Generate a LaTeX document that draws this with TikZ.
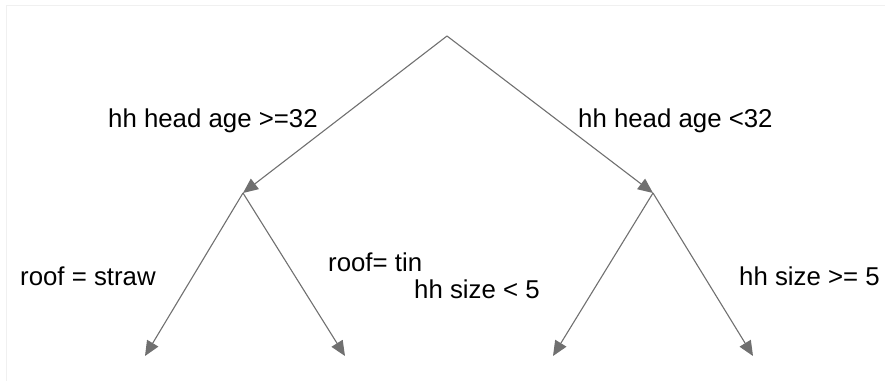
\documentclass[tikz,border=0pt]{standalone}
\usepackage{fontspec}
\setmainfont{Liberation Sans}
\usetikzlibrary{arrows.meta}
\definecolor{edgegray}{HTML}{707070}
\definecolor{framegray}{HTML}{F0F0F0}
\begin{document}
\begin{tikzpicture}[x=1pt,y=1pt,
  edge/.style={draw=edgegray, line width=1.1pt, -{Triangle[length=15pt,width=13pt]}},
  lbl/.style={font=\fontsize{25.8}{30}\selectfont, inner sep=0pt, anchor=base west, text=black}]
\useasboundingbox (0,0) rectangle (885,381);
\draw[framegray, line width=1pt] (6,0) -- (6,375) -- (885,375);
\coordinate (root) at (447,345);
\coordinate (L) at (243,188);
\coordinate (R) at (653,188);
\coordinate (LL) at (145,25);
\coordinate (LR) at (345,25);
\coordinate (RL) at (553,25);
\coordinate (RR) at (753,25);
\draw[edge] (root) -- (L);
\draw[edge] (root) -- (R);
\draw[edge] (L) -- (LL);
\draw[edge] (L) -- (LR);
\draw[edge] (R) -- (RL);
\draw[edge] (R) -- (RR);
\node[lbl] (t1) at (108,254) {hh head age >=32};
\node[lbl] (t2) at (578,254) {hh head age <32};
\node[lbl] (t3) at (20,96) {roof = straw};
\node[lbl] (t4) at (328,110) {roof= tin};
\node[lbl] (t5) at (414,83) {hh size < 5};
\node[lbl] (t6) at (739,96) {hh size >= 5};
\end{tikzpicture}
\end{document}
